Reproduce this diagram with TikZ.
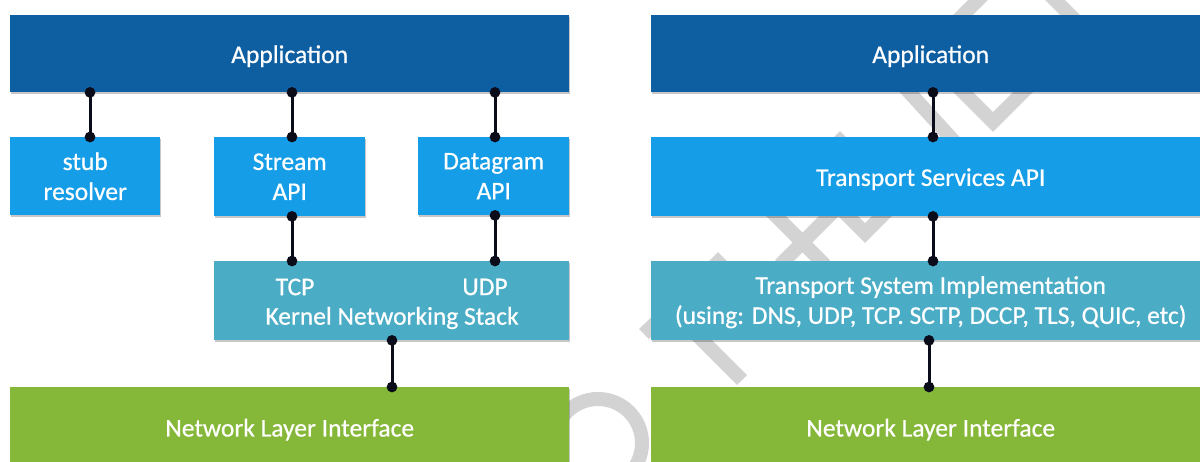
\documentclass[tikz,border=0pt]{standalone}
\usepackage{fontspec}
\setmainfont{Carlito}[FakeBold=0.6]
\usetikzlibrary{shadows,arrows.meta}
\definecolor{appblue}{RGB}{14,94,162}
\definecolor{apiblue}{RGB}{22,157,232}
\definecolor{tealbox}{RGB}{75,172,198}
\definecolor{netgreen}{RGB}{133,183,56}
\definecolor{linek}{RGB}{10,12,26}
\definecolor{wmgray}{RGB}{211,211,211}
\begin{document}
\begin{tikzpicture}[x=1pt,y=-1pt,
  box/.style={rectangle, inner sep=0pt, anchor=north west,
    drop shadow={shadow xshift=1pt, shadow yshift=-2pt, opacity=0.22, fill=black}},
  txt/.style={text=white, font=\fontsize{25.5}{30}\selectfont, inner sep=0pt,
    align=center, yshift=-2.5pt},
  lbl/.style={text=white, font=\fontsize{25.5}{30}\selectfont, inner sep=0pt},
  conn/.style={draw=linek, line width=3pt,
    {Circle[length=10.5pt]}-{Circle[length=10.5pt]},
    shorten <=-5.25pt, shorten >=-5.25pt},
  wm/.style={draw=wmgray, line width=14pt, line cap=butt, line join=miter}]
\useasboundingbox (0,0) rectangle (1200,462);
\clip (0,0) rectangle (1200,462);
\fill[white] (0,0) rectangle (1200,462);
% watermark fragments
\draw[wm] (598,443) circle[radius=44pt];
\draw[wm] (644,334) -- (718,262) -- (745,289);
\draw[wm] (675,313) -- (742,380);
\draw[wm] (765,205) -- (825,265);
\draw[wm] (840,205) -- (780,265);
\draw[wm] (833,201) -- (865,233) -- (897,201);
\draw[wm] (820,161) -- (840,141) -- (860,161);
\draw[wm] (898,80) -- (962,150);
\draw[wm] (950,79) -- (993,122) -- (1036,79);
\draw[wm] (990,-12) -- (950,28);
\draw[wm] (1043,-12) -- (1083,28);
% left panel
\node[box, fill=appblue, minimum width=559pt, minimum height=77pt] (appL) at (10,15) {};
\node[txt] (appLt) at (appL.center) {Application};
\node[box, fill=apiblue, minimum width=150pt, minimum height=78pt] (stub) at (10,137) {};
\node[txt, yshift=2.5pt] (stubt) at (stub.center) {stub\\resolver};
\node[box, fill=apiblue, minimum width=151pt, minimum height=79pt] (stream) at (214,137) {};
\node[txt, yshift=2.5pt] (streamt) at (stream.center) {Stream\\API};
\node[box, fill=apiblue, minimum width=151pt, minimum height=78pt] (dgram) at (418,137) {};
\node[txt, yshift=2.5pt] (dgramt) at (dgram.center) {Datagram\\API};
\node[box, fill=tealbox, minimum width=355pt, minimum height=79pt] (kern) at (214,261) {};
\node[lbl] (tcp) at (295,287) {TCP};
\node[lbl] (udp) at (485,287) {UDP};
\node[lbl] (kns) at (392,318) {Kernel Networking Stack};
\node[box, fill=netgreen, minimum width=559pt, minimum height=80pt] (netL) at (10,387) {};
\node[txt] (netLt) at (netL.center) {Network Layer Interface};
\coordinate (xa) at (90,0);
\coordinate (xb) at (292,0);
\coordinate (xc) at (495,0);
\coordinate (xd) at (392,0);
\draw[conn] (appL.south -| xa) -- (stub.north -| xa);
\draw[conn] (appL.south -| xb) -- (stream.north -| xb);
\draw[conn] (appL.south -| xc) -- (dgram.north -| xc);
\draw[conn] (stream.south -| xb) -- (kern.north -| xb);
\draw[conn] (dgram.south -| xc) -- (kern.north -| xc);
\draw[conn] (kern.south -| xd) -- (netL.north -| xd);
% right panel
\node[box, fill=appblue, minimum width=559pt, minimum height=77pt] (appR) at (651,15) {};
\node[txt] (appRt) at (appR.center) {Application};
\node[box, fill=apiblue, minimum width=559pt, minimum height=79pt] (tsapi) at (651,137) {};
\node[txt] (tsapit) at (tsapi.center) {Transport Services API};
\node[box, fill=tealbox, minimum width=559pt, minimum height=79pt] (tsi) at (651,261) {};
\node[txt, yshift=1pt] (tsit) at (tsi.center) {Transport System Implementation\\(using: DNS, UDP, TCP. SCTP, DCCP, TLS, QUIC, etc)};
\node[box, fill=netgreen, minimum width=559pt, minimum height=80pt] (netR) at (651,387) {};
\node[txt] (netRt) at (netR.center) {Network Layer Interface};
\coordinate (xe) at (933,0);
\coordinate (xf) at (929,0);
\draw[conn] (appR.south -| xe) -- (tsapi.north -| xe);
\draw[conn] (tsapi.south -| xe) -- (tsi.north -| xe);
\draw[conn] (tsi.south -| xf) -- (netR.north -| xf);
\end{tikzpicture}
\end{document}
